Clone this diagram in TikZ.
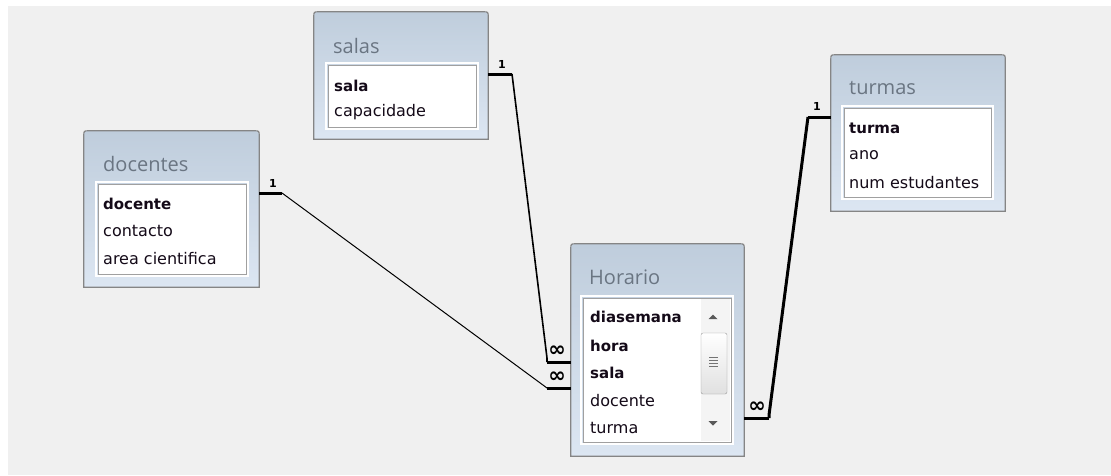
\documentclass[tikz,border=0pt]{standalone}
\usepackage{fontspec}
\setmainfont{DejaVu Sans}
\newfontfamily\ttlfont{Open Sans}
\newfontfamily\fldfont{DejaVu Sans}
\definecolor{bgc}{HTML}{F0F0F0}
\definecolor{tbltop}{HTML}{BFCDDC}
\definecolor{tblbot}{HTML}{DCE6F2}
\definecolor{tbledge}{HTML}{858585}
\definecolor{ttlc}{HTML}{6A7582}
\definecolor{lstedge}{HTML}{A0A0A0}
\definecolor{fldc}{HTML}{140A18}
\tikzset{
  tbl/.style={draw=none, fill=none, inner sep=0pt},
  lst/.style={draw=lstedge, line width=1pt, fill=white, inner sep=0pt},
  ttl/.style={anchor=west, inner sep=0pt, text=ttlc, font=\ttlfont\fontsize{20}{24}\selectfont},
  fld/.style={anchor=west, inner sep=0pt, text=fldc, font=\fldfont\fontsize{16}{19}\selectfont},
  fldb/.style={fld, font=\fldfont\bfseries\fontsize{15}{19}\selectfont},
  card/.style={inner sep=0pt, font=\fldfont\bfseries\fontsize{11}{11}\selectfont},
  cardm/.style={inner sep=0pt, font=\fldfont\bfseries\fontsize{21}{21}\selectfont},
  relthick/.style={line width=3pt, line cap=butt},
  relthin/.style={line width=1pt},
  relmid/.style={line width=1.6pt},
  frame/.style={draw=tbledge, line width=1.2pt},
  lstframe/.style={draw=white, line width=1.2pt},
}
\newcommand\tblframe[1]{%
  \shade[top color=tbltop, bottom color=tblbot]
    (#1.south west) -- ([yshift=-5pt]#1.north west) .. controls (#1.north west) .. ([xshift=5pt]#1.north west)
    -- ([xshift=-5pt]#1.north east) .. controls (#1.north east) .. ([yshift=-5pt]#1.north east)
    -- (#1.south east) -- cycle;
  \draw[frame]
    (#1.south west) -- ([yshift=-5pt]#1.north west) .. controls (#1.north west) .. ([xshift=5pt]#1.north west)
    -- ([xshift=-5pt]#1.north east) .. controls (#1.north east) .. ([yshift=-5pt]#1.north east)
    -- (#1.south east) -- cycle;}
\newcommand\lstouter[1]{%
  \draw[lstframe] ([shift={(-1.5pt,1.5pt)}]#1.north west) rectangle ([shift={(1.5pt,-1.5pt)}]#1.south east);}
\begin{document}
\begin{tikzpicture}[x=1pt,y=-1pt]
\useasboundingbox (0,0) rectangle (1111,475);
\fill[white] (0,0) rectangle (1111,475);
\fill[bgc] (8,6) rectangle (1111,475);

% salas
\node[tbl, minimum width=174pt, minimum height=127pt] (salas) at (401,75.5) {};
\tblframe{salas}
\node[ttl] (salasT) at (333,46) {salas};
\node[lst, minimum width=148pt, minimum height=62pt] (salasL) at (402,96) {};
\lstouter{salasL}
\node[fldb] (salas1) at (334,86) {sala};
\node[fld] (salas2) at (334,112) {capacidade};

% docentes
\node[tbl, minimum width=175pt, minimum height=156pt] (doc) at (171.5,209) {};
\tblframe{doc}
\node[ttl] (docT) at (103,164) {docentes};
\node[lst, minimum width=148pt, minimum height=90pt] (docL) at (172,229) {};
\lstouter{docL}
\node[fldb] (doc1) at (103,204) {docente};
\node[fld] (doc2) at (103,231) {contacto};
\node[fld] (doc3) at (103,259) {area cientifica};

% turmas
\node[tbl, minimum width=174pt, minimum height=156pt] (turmas) at (918,133) {};
\tblframe{turmas}
\node[ttl] (turT) at (849,88) {turmas};
\node[lst, minimum width=147pt, minimum height=89pt] (turL) at (917.5,152.5) {};
\lstouter{turL}
\node[fldb] (tur1) at (849,128) {turma};
\node[fld] (tur2) at (849,155) {ano};
\node[fld] (tur3) at (849,183) {num estudantes};

% Horario
\node[tbl, minimum width=173pt, minimum height=212pt] (hor) at (657.5,350) {};
\tblframe{hor}
\node[ttl] (horT) at (589,277) {Horario};
\node[lst, minimum width=148pt, minimum height=144pt] (horL) at (657,370) {};
\lstouter{horL}
\node[fldb] (hor1) at (590,317) {diasemana};
\node[fldb] (hor2) at (590,346) {hora};
\node[fldb] (hor3) at (590,373) {sala};
\node[fld] (hor4) at (590,401) {docente};
\node[fld] (hor5) at (590,428) {turma};

% scrollbar
\node[fill=bgc!70!white, draw=none, minimum width=29pt, minimum height=142pt, inner sep=0pt] (track) at (715,370) {};
\fill[black!65] (708.5,319) -- (717.5,319) -- (713,314.5) -- cycle;
\fill[black!65] (708.5,421) -- (717.5,421) -- (713,425.5) -- cycle;
\node[draw=black!40, rounded corners=2pt, top color=white, bottom color=black!12, minimum width=26pt, minimum height=61pt, inner sep=0pt] (thumb) at (714,363.5) {};
\foreach \yy in {357,360,363,366} \draw[black!55, line width=0.8pt] (709,\yy) -- (718,\yy);

% connector salas -> Horario
\coordinate (s1) at (512,74);
\coordinate (s2) at (547,358);
\coordinate (s3) at (547,362);
\draw[relthick] (salas.east |- s1) -- (s1);
\draw[relmid] (s1) -- (s2) -- (s3);
\draw[relthick] (s3) -- (hor.west |- s3);
\node[card] (sone) at (502,64) {1};
\node[cardm] (smany) at (557,351) {∞};

% connector docentes -> Horario
\coordinate (d1) at (282,193);
\coordinate (d2) at (547,388);
\draw[relthick] (doc.east |- d1) -- (d1);
\draw[relthin] (d1) -- (d2);
\draw[relthick] (d2) -- (hor.west |- d2);
\node[card] (done) at (273,183) {1};
\node[cardm] (dmany) at (557,377) {∞};

% connector turmas -> Horario
\coordinate (t1) at (808,117);
\coordinate (t2) at (769,415);
\coordinate (t3) at (769,418);
\draw[relthick] (turmas.west |- t1) -- (t1);
\draw[relthick, line join=miter] (t1) -- (t2) -- (t3);
\draw[relthick] (t3) -- (hor.east |- t3);
\node[card] (tone) at (817,106) {1};
\node[cardm] (tmany) at (757,407) {∞};
\end{tikzpicture}
\end{document}
